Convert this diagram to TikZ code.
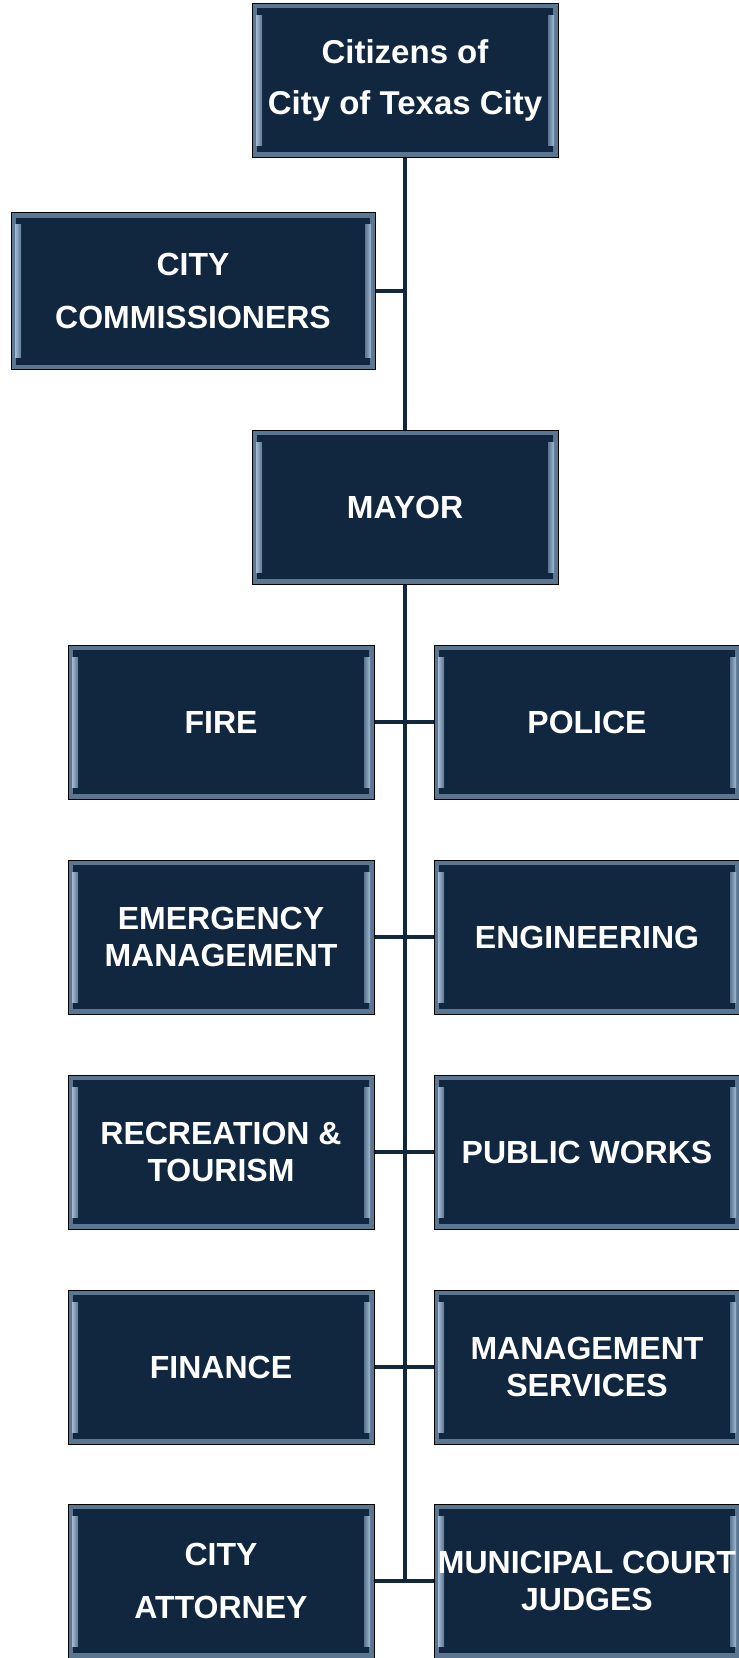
\documentclass[tikz,border=0pt]{standalone}
\usepackage{fontspec}
\setmainfont{Liberation Sans}
\usetikzlibrary{calc}

\definecolor{navy}{HTML}{10273F}
\definecolor{rim}{HTML}{5B7691}
\definecolor{glint}{HTML}{A3BBD3}

\tikzset{
  box/.style={draw=black, line width=1pt, fill=navy, text=white,
    minimum width=306pt, minimum height=154pt, inner sep=0pt, align=center,
    font=\bfseries\fontsize{32}{37}\selectfont,
    path picture={
      \fill[rim] (path picture bounding box.south west) rectangle (path picture bounding box.north east);
      \fill[navy] ([shift={(5pt,5pt)}]path picture bounding box.south west) rectangle ([shift={(-5pt,-5pt)}]path picture bounding box.north east);
      \shade[left color=glint, right color=rim] ([shift={(4pt,12pt)}]path picture bounding box.south west) rectangle ([shift={(10pt,-12pt)}]path picture bounding box.north west);
      \shade[left color=rim, right color=glint] ([shift={(-10pt,12pt)}]path picture bounding box.south east) rectangle ([shift={(-4pt,-12pt)}]path picture bounding box.north east);
    }},
  link/.style={draw=navy, line width=4pt}
}

\begin{document}
\begin{tikzpicture}[x=1pt, y=-1pt]
\useasboundingbox (0,0) rectangle (739,1658);
\node[box, font=\bfseries\fontsize{33}{51}\selectfont] (citizens) at (405,80) {Citizens of\\City of Texas City};
\node[box, minimum width=364pt, minimum height=157pt] (commish) at (193,291) {CITY\\[16pt]COMMISSIONERS};
\node[box] (mayor) at (405,507) {MAYOR};
\node[box] (fire) at (221,722) {FIRE};
\node[box] (police) at (587,722) {POLICE};
\node[box] (emerg) at (221,937) {EMERGENCY\\MANAGEMENT};
\node[box] (engin) at (587,937) {ENGINEERING};
\node[box] (rec) at (221,1152) {RECREATION \&\\TOURISM};
\node[box] (works) at (587,1152) {PUBLIC WORKS};
\node[box] (finance) at (221,1367) {FINANCE};
\node[box] (mgmt) at (587,1367) {MANAGEMENT\\SERVICES};
\node[box] (attny) at (221,1581) {CITY\\[16pt]ATTORNEY};
\node[box] (court) at (587,1581) {MUNICIPAL COURT\\JUDGES};
\coordinate (bottom) at (mayor.south |- attny.east);
\path[link] (citizens) -- (mayor);
\path[link] (commish.east) -- (commish.east -| citizens.south);
\path[link] (mayor.south) -- (bottom);
\path[link] (fire) -- (police);
\path[link] (emerg) -- (engin);
\path[link] (rec) -- (works);
\path[link] (finance) -- (mgmt);
\path[link] (attny) -- (court);
\end{tikzpicture}
\end{document}
